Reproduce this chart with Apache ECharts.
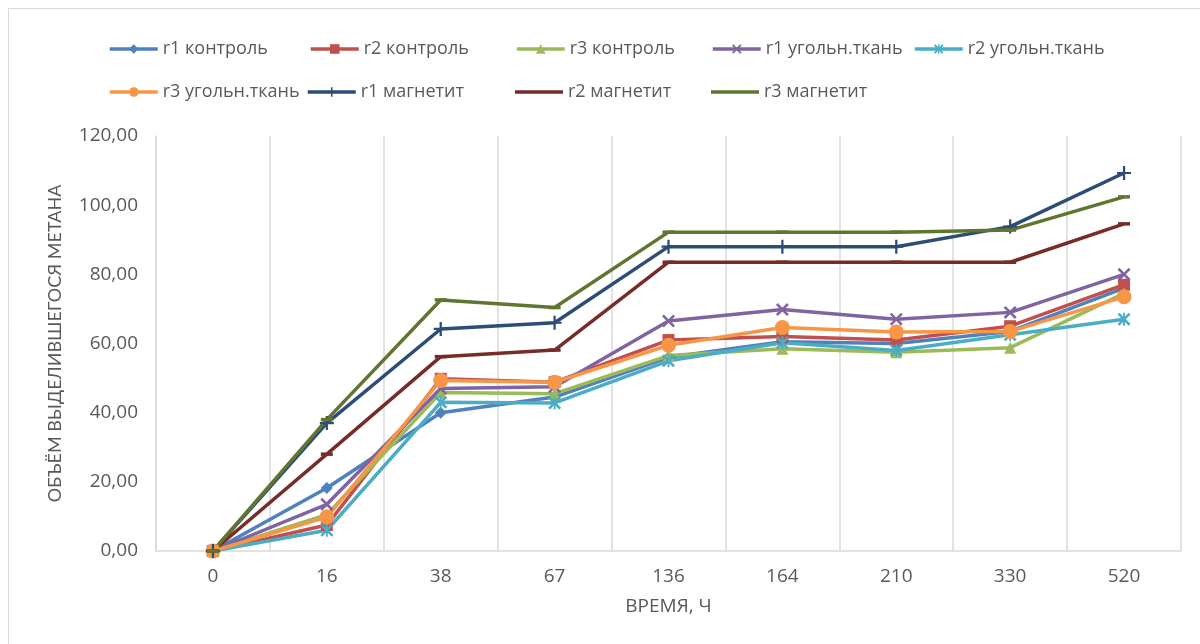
<!DOCTYPE html>
<html>
<head>
<meta charset="utf-8">
<script src="https://cdn.jsdelivr.net/npm/echarts@6/dist/echarts.min.js"></script>
<style>
  html, body { margin: 0; padding: 0; background: #ffffff; }
  #chart { width: 1200px; height: 644px; }
</style>
</head>
<body>
<div id="chart"></div>
<script>
// Время отбора проб, ч
const categories = ['0', '16', '38', '67', '136', '164', '210', '330', '520'];

// Объём выделившегося метана по реакторам
const r1Control = [0, 18.2, 40.0, 44.5, 56.0, 60.5, 60.0, 63.5, 76.0];
const r2Control = [0, 7.5, 49.8, 48.8, 61.0, 62.0, 61.0, 65.0, 77.0];
const r3Control = [0, 10.5, 45.8, 45.5, 56.5, 58.5, 57.5, 58.8, 74.5];
const r1Cloth = [0, 13.5, 47.0, 47.5, 66.5, 69.8, 67.0, 69.0, 80.0];
const r2Cloth = [0, 6.0, 43.0, 42.8, 55.0, 60.2, 58.0, 62.5, 67.0];
const r3Cloth = [0, 9.8, 49.3, 48.8, 59.5, 64.6, 63.3, 63.5, 73.5];
const r1Magnetite = [0, 37.0, 64.2, 66.0, 88.0, 88.0, 88.0, 93.8, 109.3];
const r2Magnetite = [0, 28.0, 56.2, 58.1, 83.5, 83.5, 83.5, 83.5, 94.6];
const r3Magnetite = [0, 38.0, 72.6, 70.4, 92.2, 92.2, 92.2, 92.8, 102.4];

const seriesNames = [
  'r1 контроль', 'r2 контроль', 'r3 контроль',
  'r1 угольн.ткань', 'r2 угольн.ткань', 'r3 угольн.ткань',
  'r1 магнетит', 'r2 магнетит', 'r3 магнетит'
];
const seriesData = [
  r1Control, r2Control, r3Control,
  r1Cloth, r2Cloth, r3Cloth,
  r1Magnetite, r2Magnetite, r3Magnetite
];

const xMark = 'path://M0,1.4L1.4,0L5,3.6L8.6,0L10,1.4L6.4,5L10,8.6L8.6,10L5,6.4L1.4,10L0,8.6L3.6,5Z';
const plusMark = 'path://M4.2,0H5.8V4.2H10V5.8H5.8V10H4.2V5.8H0V4.2H4.2Z';
const starMark = 'path://M0,1.4L1.4,0L5,3.6L8.6,0L10,1.4L6.4,5L10,8.6L8.6,10L5,6.4L1.4,10L0,8.6L3.6,5Z M4.3,0H5.7V10H4.3Z';

const styles = [
  { color: '#4F81BD', symbol: 'diamond', size: 12 },
  { color: '#C0504D', symbol: 'rect', size: 12 },
  { color: '#9BBB59', symbol: 'triangle', size: 12 },
  { color: '#8064A2', symbol: xMark, size: 13 },
  { color: '#4BACC6', symbol: starMark, size: 13 },
  { color: '#F79646', symbol: 'circle', size: 15 },
  { color: '#2C4D75', symbol: plusMark, size: 14 },
  { color: '#772C2A', symbol: 'rect', size: [12, 3.5] },
  { color: '#5F7530', symbol: 'rect', size: [12, 3.5] }
];

const legendPos = [
  [108, 40], [309, 40], [515, 40], [711, 40], [913, 40],
  [108, 83], [306, 83], [515, 83], [711, 83]
];

const font = '"Open Sans", Lato, sans-serif';
const titleFont = 'Lato, "Open Sans", sans-serif';
const textGray = '#595959';

const legends = seriesNames.map((name, i) => {
  const plainLine = i >= 7;
  return {
    data: [plainLine ? { name: name, icon: 'rect' } : name],
    left: legendPos[i][0],
    top: legendPos[i][1],
    padding: 0,
    itemWidth: 48,
    itemHeight: plainLine ? 3.5 : 12,
    lineStyle: { width: 3.5 },
    textStyle: { color: textGray, fontSize: 18, fontFamily: font },
    selectedMode: false
  };
});

const series = seriesNames.map((name, i) => ({
  name: name,
  type: 'line',
  data: seriesData[i],
  symbol: styles[i].symbol,
  symbolSize: styles[i].size,
  showAllSymbol: true,
  color: styles[i].color,
  lineStyle: { width: 3.5, color: styles[i].color },
  itemStyle: { color: styles[i].color },
  animation: false
}));

const chart = echarts.init(document.getElementById('chart'), null, { renderer: 'canvas' });
chart.setOption({
  backgroundColor: '#ffffff',
  animation: false,
  graphic: [{
    type: 'rect',
    shape: { x: 8.5, y: 8.5, width: 1300, height: 1000 },
    style: { fill: 'none', stroke: '#d9d9d9', lineWidth: 1 },
    silent: true
  }],
  legend: legends,
  grid: { left: 156, right: 19, top: 136, bottom: 93 },
  xAxis: {
    type: 'category',
    data: categories,
    boundaryGap: true,
    name: 'ВРЕМЯ, Ч',
    nameLocation: 'middle',
    nameGap: 46,
    nameTextStyle: { color: textGray, fontSize: 19, fontFamily: font },
    axisLine: { lineStyle: { color: '#d9d9d9', width: 1.5 } },
    axisTick: { show: false },
    axisLabel: { color: textGray, fontSize: 19, fontFamily: font, margin: 16 },
    splitLine: { show: true, lineStyle: { color: '#d9d9d9', width: 1.5 } }
  },
  yAxis: {
    type: 'value',
    min: 0,
    max: 120,
    interval: 20,
    name: 'ОБЪЁМ ВЫДЕЛИВШЕГОСЯ МЕТАНА',
    nameLocation: 'middle',
    nameGap: 92,
    nameRotate: 90,
    nameTextStyle: { color: textGray, fontSize: 18, fontFamily: titleFont },
    axisLine: { show: true, lineStyle: { color: '#d9d9d9', width: 1.5 } },
    axisTick: { show: false },
    axisLabel: {
      color: textGray, fontSize: 19, fontFamily: font, margin: 18,
      formatter: v => v.toFixed(2).replace('.', ',')
    },
    splitLine: { show: false }
  },
  series: series
});
</script>
</body>
</html>
